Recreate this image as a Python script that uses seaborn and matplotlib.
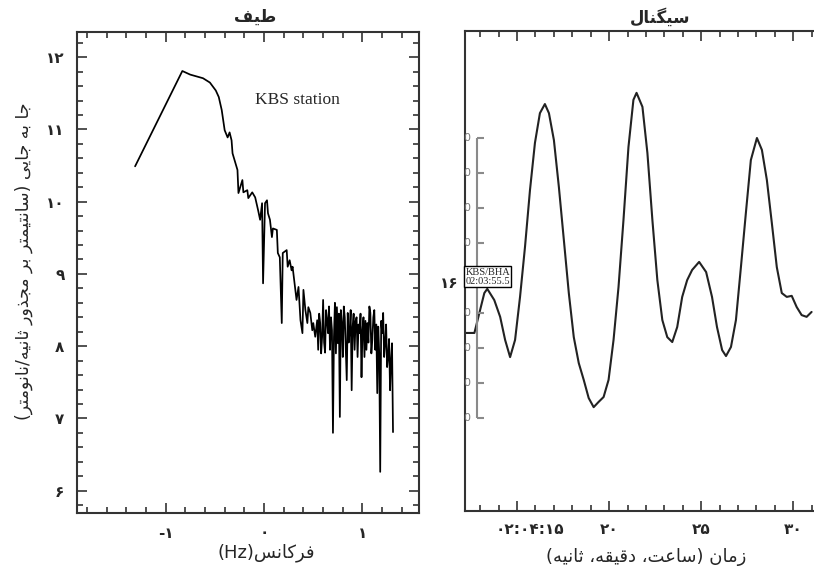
import matplotlib
matplotlib.use("Agg")
import matplotlib.pyplot as plt
import seaborn as sns
from matplotlib.ticker import FixedLocator, FixedFormatter, MultipleLocator
from matplotlib.transforms import ScaledTranslation

# ---- spectrum (left panel): log frequency vs log amplitude
spec_x = [-1.31, -0.83, -0.75, -0.62, -0.55, -0.49, -0.46, -0.43, -0.40, -0.37,
          -0.35, -0.33, -0.32, -0.27, -0.26, -0.22, -0.21, -0.17, -0.16, -0.12,
          -0.09, -0.06, -0.04, -0.02, -0.01, 0.01, 0.03, 0.04, 0.06, 0.08,
          0.09, 0.13, 0.14, 0.16, 0.18, 0.19, 0.23, 0.24, 0.26, 0.28,
          0.29, 0.31, 0.33, 0.35, 0.37, 0.39, 0.40, 0.42, 0.44, 0.45,
          0.47, 0.49, 0.50, 0.52, 0.54,
          0.55, 0.56, 0.57, 0.58, 0.59, 0.60, 0.61, 0.62, 0.63, 0.64,
          0.65, 0.66, 0.67, 0.68, 0.69, 0.70, 0.71, 0.72, 0.73, 0.74,
          0.75, 0.76, 0.77, 0.78, 0.79, 0.80, 0.81, 0.82, 0.83, 0.84,
          0.85, 0.86, 0.87, 0.88, 0.89, 0.90, 0.91, 0.92, 0.93, 0.94,
          0.95, 0.96, 0.97, 0.98, 0.99, 1.00, 1.01, 1.02, 1.03, 1.04,
          1.05, 1.06, 1.07, 1.08, 1.09, 1.10, 1.11, 1.12, 1.13, 1.14,
          1.15, 1.16, 1.17, 1.18, 1.19, 1.20, 1.21, 1.22, 1.23, 1.24,
          1.25, 1.26, 1.27, 1.28, 1.29, 1.30, 1.31]
spec_y = [10.49, 11.81, 11.76, 11.71, 11.65, 11.54, 11.45, 11.27, 10.99, 10.89,
          10.96, 10.85, 10.67, 10.44, 10.12, 10.30, 10.13, 10.16, 10.05, 10.13,
          10.06, 9.88, 9.75, 9.98, 8.87, 9.98, 10.02, 9.84, 9.75, 9.51,
          9.63, 9.61, 9.29, 9.23, 8.32, 9.29, 9.33, 9.10, 9.19, 9.05,
          9.10, 8.87, 8.64, 8.82, 8.36, 8.18, 8.78, 8.50, 8.32, 8.54,
          8.46, 8.22, 8.32, 8.13, 8.36,
          7.95, 8.45, 8.32, 7.90, 8.13, 8.64, 8.05, 7.91, 8.50, 8.36,
          8.18, 8.55, 7.95, 8.40, 8.22, 6.80, 8.13, 8.60, 7.90, 8.54,
          8.04, 8.45, 7.02, 8.50, 8.32, 7.85, 8.55, 8.40, 7.95, 7.53,
          8.46, 8.05, 8.22, 8.50, 7.39, 8.27, 8.45, 7.95, 8.35, 8.40,
          7.85, 8.30, 8.18, 8.45, 7.57, 8.22, 8.40, 7.85, 8.35, 7.95,
          8.32, 8.05, 8.55, 8.46, 7.90, 8.09, 8.40, 8.50, 7.95, 8.30,
          7.35, 8.27, 7.90, 6.26, 8.35, 8.18, 8.46, 7.85, 8.04, 8.30,
          7.71, 7.85, 8.10, 7.39, 7.80, 8.04, 6.81]

# ---- seismogram (right panel): seconds after 02:04:00 vs trace amplitude
sig_t = [12.17, 12.35, 12.68, 12.95, 13.22, 13.38, 13.76, 14.08, 14.35, 14.62,
         14.89, 15.16, 15.43, 15.70, 15.97, 16.24, 16.51, 16.73, 17.00, 17.27,
         17.54, 17.81, 18.08, 18.35, 18.62, 18.89, 19.16, 19.43, 19.70, 19.97,
         20.24, 20.51, 20.78, 21.05, 21.32, 21.49, 21.81, 22.08, 22.35, 22.62,
         22.89, 23.16, 23.43, 23.70, 23.97, 24.24, 24.51, 24.89, 25.27, 25.59,
         25.86, 26.14, 26.35, 26.62, 26.89, 27.16, 27.43, 27.70, 28.03, 28.30,
         28.57, 28.84, 29.11, 29.38, 29.65, 29.92, 30.19, 30.46, 30.73, 31.00]
sig_a = [2.43, 2.43, 2.43, 3.00, 3.57, 3.69, 3.37, 2.89, 2.23, 1.74,
         2.23, 3.46, 4.89, 6.51, 7.86, 8.71, 8.97, 8.71, 7.94, 6.60,
         5.09, 3.57, 2.31, 1.57, 1.09, 0.57, 0.31, 0.46, 0.60, 1.09,
         2.23, 3.74, 5.66, 7.74, 9.09, 9.29, 8.89, 7.57, 5.66, 3.94,
         2.80, 2.31, 2.17, 2.60, 3.46, 3.94, 4.23, 4.46, 4.17, 3.46,
         2.60, 1.94, 1.77, 2.03, 2.80, 4.31, 5.86, 7.37, 8.00, 7.66,
         6.80, 5.57, 4.31, 3.57, 3.46, 3.49, 3.17, 2.94, 2.89, 3.03]

# amplitude scale bar drawn next to the trace
scale_levels = [0, 1, 2, 3, 4, 5, 6, 7, 8]
scale_marks = [0, 1, 2, 3, 5, 6, 7, 8]   # level 4 sits behind the id box
scale_x = 12.84

# tick positions and Persian labels
spec_yticks = [6, 7, 8, 9, 10, 11, 12]
spec_ylabels = ["۶", "۷", "۸", "۹", "۱۰", "۱۱", "۱۲"]
spec_xticks = [-1, 0, 1]
spec_xlabels = ["-۱", "۰", "۱"]
sig_xticks = [15, 20, 25, 30]
sig_xlabels = ["۰۲:۰۴:۱۵", "۲۰", "۲۵", "۳۰"]

station_note = "KBS station"
trace_id = "KBS/BHA\n02:03:55.5"
trace_num = "۱۶"

# --- minimal Arabic-script shaping (presentation forms + visual order)
FORMS = {
    'ا': ('\uFE8D', '\uFE8E', None, None),
    'ب': ('\uFE8F', '\uFE90', '\uFE91', '\uFE92'),
    'ت': ('\uFE95', '\uFE96', '\uFE97', '\uFE98'),
    'ث': ('\uFE99', '\uFE9A', '\uFE9B', '\uFE9C'),
    'ج': ('\uFE9D', '\uFE9E', '\uFE9F', '\uFEA0'),
    'د': ('\uFEA9', '\uFEAA', None, None),
    'ذ': ('\uFEAB', '\uFEAC', None, None),
    'ر': ('\uFEAD', '\uFEAE', None, None),
    'ز': ('\uFEAF', '\uFEB0', None, None),
    'س': ('\uFEB1', '\uFEB2', '\uFEB3', '\uFEB4'),
    'ط': ('\uFEC1', '\uFEC2', '\uFEC3', '\uFEC4'),
    'ع': ('\uFEC9', '\uFECA', '\uFECB', '\uFECC'),
    'ف': ('\uFED1', '\uFED2', '\uFED3', '\uFED4'),
    'ق': ('\uFED5', '\uFED6', '\uFED7', '\uFED8'),
    'ک': ('\uFB8E', '\uFB8F', '\uFB90', '\uFB91'),
    'گ': ('\uFB92', '\uFB93', '\uFB94', '\uFB95'),
    'ل': ('\uFEDD', '\uFEDE', '\uFEDF', '\uFEE0'),
    'م': ('\uFEE1', '\uFEE2', '\uFEE3', '\uFEE4'),
    'ن': ('\uFEE5', '\uFEE6', '\uFEE7', '\uFEE8'),
    'ه': ('\uFEE9', '\uFEEA', '\uFEEB', '\uFEEC'),
    'و': ('\uFEED', '\uFEEE', None, None),
    'ی': ('\uFEEF', '\uFEF0', '\uFEF3', '\uFEF4'),
}


def shape(text):
    out = []
    for i, ch in enumerate(text):
        if ch not in FORMS:
            out.append(ch)
            continue
        iso, fin, ini, med = FORMS[ch]
        prev = text[i - 1] if i > 0 else ''
        nxt = text[i + 1] if i < len(text) - 1 else ''
        jp = prev in FORMS and FORMS[prev][2] is not None
        jn = ini is not None and nxt in FORMS
        if jp and jn:
            out.append(med)
        elif jp:
            out.append(fin)
        elif jn:
            out.append(ini)
        else:
            out.append(iso)
    vis = ''.join(out)[::-1]
    return vis.translate(str.maketrans('()', ')('))


sns.set_style("ticks")
plt.rcParams['font.family'] = ['DejaVu Sans']

fig = plt.figure(figsize=(8.14, 5.77), dpi=100)
W, H = 814, 577
ax1 = fig.add_axes([77 / W, 64 / H, 342 / W, 481 / H])
ax2 = fig.add_axes([465 / W, 66 / H, 365 / W, 480 / H])

spine_col = '#333333'

# left: spectrum
sns.lineplot(x=spec_x, y=spec_y, ax=ax1, color='black', lw=1.25,
             sort=False, estimator=None)
ax1.set_xlim(-1.9, 1.574)
ax1.set_ylim(5.69, 12.35)
ax1.xaxis.set_major_locator(FixedLocator(spec_xticks))
ax1.xaxis.set_major_formatter(FixedFormatter(spec_xlabels))
ax1.yaxis.set_major_locator(FixedLocator(spec_yticks))
ax1.yaxis.set_major_formatter(FixedFormatter(spec_ylabels))
ax1.xaxis.set_minor_locator(MultipleLocator(0.2))
ax1.yaxis.set_minor_locator(MultipleLocator(0.2))
ax1.tick_params(which='both', direction='in', top=True, right=True,
                color=spine_col, width=1.2)
ax1.tick_params(which='major', length=7, pad=9)
ax1.tick_params(which='minor', length=4)
for lab in ax1.get_xticklabels() + ax1.get_yticklabels():
    lab.set_fontsize(11)
    lab.set_fontweight('bold')
for sp in ax1.spines.values():
    sp.set_color(spine_col)
    sp.set_linewidth(1.5)
ax1.text(0.335, 11.41, station_note, family='Liberation Serif', fontsize=12.5,
         ha='center', va='center')

# right: seismogram
sns.lineplot(x=sig_t, y=sig_a, ax=ax2, color='#222222', lw=1.5,
             sort=False, estimator=None)
ax2.set_xlim(12.17, 32.0)
ax2.set_ylim(-2.657, 11.057)
ax2.xaxis.set_major_locator(FixedLocator(sig_xticks))
ax2.xaxis.set_major_formatter(FixedFormatter(sig_xlabels))
ax2.xaxis.set_minor_locator(MultipleLocator(1))
ax2.set_yticks([])
ax2.tick_params(which='both', direction='in', top=True, color=spine_col, width=1.2)
ax2.tick_params(which='major', length=7, pad=8)
ax2.tick_params(which='minor', length=4)
for lab in ax2.get_xticklabels():
    lab.set_fontsize(11)
    lab.set_fontweight('bold')
first = ax2.get_xticklabels()[0]
first.set_transform(first.get_transform() + ScaledTranslation(0.13, 0, fig.dpi_scale_trans))
for name in ['left', 'top', 'bottom']:
    ax2.spines[name].set_color(spine_col)
    ax2.spines[name].set_linewidth(1.5)
ax2.spines['right'].set_visible(False)

# scale bar with labels cut off by the left edge
ax2.vlines(scale_x, min(scale_levels), max(scale_levels), color='#8a8a8a', lw=1.5)
ax2.hlines(scale_levels, scale_x, scale_x + 0.38, color='#8a8a8a', lw=1.5)
for lv in scale_marks:
    t = ax2.text(12.27, lv, "0", fontsize=8, color='#777777', ha='center',
                 va='center')
    t.set_clip_path(ax2.patch)
ax2.text(12.19, 4.04, trace_id, family='Liberation Serif', fontsize=7.5,
         ha='left', va='center', linespacing=1.0, zorder=5,
         bbox=dict(boxstyle='square,pad=0.12', fc='white', ec='black', lw=1))
fig.text(449 / W, 1 - 283 / H, trace_num, fontsize=11, fontweight='bold',
         ha='center', va='center')

# titles and axis labels
fig.text(255 / W, 1 - 17 / H, shape("طیف"), fontsize=12, fontweight='bold',
         ha='center', va='center')
fig.text(660 / W, 1 - 17 / H, shape("سیگنال"), fontsize=12, fontweight='bold',
         ha='center', va='center')
fig.text(24 / W, 1 - 261 / H, shape("جا به جایی (سانتیمتر بر مجذور ثانیه/نانومتر)"),
         rotation=90, fontsize=12.5, ha='center', va='center')
fig.text(266 / W, 1 - 553 / H, "(Hz)" + shape("فرکانس"), fontsize=13,
         ha='center', va='center')
fig.text(646 / W, 1 - 557 / H, shape("زمان (ساعت، دقیقه، ثانیه)"), fontsize=13,
         ha='center', va='center')

fig.savefig("out.png", dpi=100)
